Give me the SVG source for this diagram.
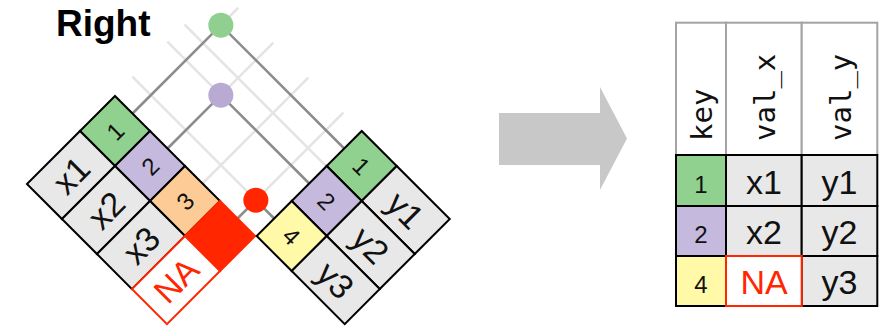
<svg xmlns="http://www.w3.org/2000/svg" width="887" height="326" viewBox="0 0 887 326">
<style>
.c{stroke:#000;stroke-width:2}
.gr{fill:#e8e8e8}
.k1{fill:#91d18f}
.k2{fill:#c5b9dd}
.k3{fill:#fdcc96}
.k4{fill:#fff9a8}
.na{fill:#fff;stroke:#ff2600;stroke-width:2}
.hd{fill:#fff;stroke:#a3a3a3;stroke-width:2}
.v{font-family:"Liberation Sans",Arial,sans-serif;font-size:34px;text-anchor:middle;fill:#111}
.n{font-family:"Liberation Sans",Arial,sans-serif;font-size:24px;text-anchor:middle;fill:#111}
.red{fill:#ff2600}
.h{font-family:"DejaVu Sans Mono",monospace;font-size:29px;fill:#111}
.light{stroke:#e4e4e4;stroke-width:2.5;fill:none}
.dark{stroke:#8c8c8c;stroke-width:2.5;fill:none}
</style>
<g id="title"><text x="56" y="36" font-family="Liberation Sans,Arial,sans-serif" font-weight="bold" font-size="37">Right</text></g>
<g id="connectors">
<line class="light" x1="132.5" y1="113.5" x2="238.35" y2="7.65"/>
<line class="light" x1="167.5" y1="148.5" x2="273.35" y2="42.65"/>
<line class="light" x1="202.5" y1="183.5" x2="308.35" y2="77.65"/>
<line class="light" x1="237.5" y1="218.5" x2="343.35" y2="112.65"/>
<line class="light" x1="184.5" y1="24.5" x2="326.4" y2="166.4"/>
<line class="light" x1="167.35" y1="41.65" x2="309.2" y2="183.5"/>
<line class="light" x1="132.35" y1="76.65" x2="274.2" y2="218.5"/>
<polyline class="dark" points="132.5,113.5 220.85,25.15 344.2,148.5"/>
<polyline class="dark" points="167.5,148.5 220.85,95.15 309.2,183.5"/>
<polyline class="dark" points="237.5,218.5 255.85,200.15 274.2,218.5"/>
</g>
<g id="table-x" transform="translate(115,96) rotate(-45)">
<rect class="c k1" x="-49.5" y="0" width="49.5" height="49.5"/>
<rect class="c k2" x="-49.5" y="49.5" width="49.5" height="49.5"/>
<rect class="c k3" x="-49.5" y="99" width="49.5" height="49.5"/>
<rect class="c gr" x="-124.5" y="0" width="75" height="49.5"/>
<rect class="c gr" x="-124.5" y="49.5" width="75" height="49.5"/>
<rect class="c gr" x="-124.5" y="99" width="75" height="49.5"/>
<rect x="-49.5" y="148.5" width="49.5" height="49.5" fill="#ff2600" stroke="#ff2600" stroke-width="2"/>
<rect class="na" x="-124.5" y="148.5" width="75" height="49.5"/>
<text class="n" x="-24.75" y="33.5">1</text>
<text class="n" x="-24.75" y="83">2</text>
<text class="n" x="-24.75" y="132.5">3</text>
<text class="v" x="-87" y="37">x1</text>
<text class="v" x="-87" y="86.5">x2</text>
<text class="v" x="-87" y="136">x3</text>
<text class="v red" x="-87" y="185.5">NA</text>
</g>
<g id="table-y" transform="translate(361.7,131) rotate(45)">
<rect class="c k1" x="0" y="0" width="49.5" height="49.5"/>
<rect class="c k2" x="0" y="49.5" width="49.5" height="49.5"/>
<rect class="c k4" x="0" y="99" width="49.5" height="49.5"/>
<rect class="c gr" x="49.5" y="0" width="75" height="49.5"/>
<rect class="c gr" x="49.5" y="49.5" width="75" height="49.5"/>
<rect class="c gr" x="49.5" y="99" width="75" height="49.5"/>
<text class="n" x="24.75" y="33.5">1</text>
<text class="n" x="24.75" y="83">2</text>
<text class="n" x="24.75" y="132.5">4</text>
<text class="v" x="87" y="37">y1</text>
<text class="v" x="87" y="86.5">y2</text>
<text class="v" x="87" y="136">y3</text>
</g>
<g id="dot-1"><circle cx="220.85" cy="25.15" r="12.5" fill="#8fcf8f"/></g>
<g id="dot-2"><circle cx="220.85" cy="95.15" r="12.5" fill="#b8aad2"/></g>
<g id="dot-na"><circle cx="255.85" cy="200.15" r="12.5" fill="#ff2600"/></g>
<g id="arrow"><polygon points="499,113 600,113 600,87 627,138.5 600,190 600,165 499,165" fill="#c8c8c8"/></g>
<g id="result">
<rect class="hd" x="676" y="22.7" width="50" height="132.3"/>
<rect class="hd" x="726" y="22.7" width="75.7" height="132.3"/>
<rect class="hd" x="801.7" y="22.7" width="75.6" height="132.3"/>
<text class="h" transform="translate(712,141) rotate(-90)">key</text>
<text class="h" transform="translate(775,141) rotate(-90)">val_x</text>
<text class="h" transform="translate(850.5,141) rotate(-90)">val_y</text>
<rect class="c k1" x="676" y="155" width="50" height="51"/>
<rect class="c k2" x="676" y="206" width="50" height="50"/>
<rect class="c k4" x="676" y="256" width="50" height="50"/>
<rect class="c gr" x="726" y="155" width="75.7" height="51"/>
<rect class="c gr" x="726" y="206" width="75.7" height="50"/>
<rect class="c gr" x="801.7" y="155" width="75.6" height="51"/>
<rect class="c gr" x="801.7" y="206" width="75.6" height="50"/>
<rect class="c gr" x="801.7" y="256" width="75.6" height="50"/>
<rect class="na" x="726" y="256" width="75.7" height="50"/>
<text class="n" x="701" y="193">1</text>
<text class="n" x="701" y="243">2</text>
<text class="n" x="701" y="293">4</text>
<text class="v" x="764" y="194">x1</text>
<text class="v" x="764" y="244">x2</text>
<text class="v red" x="764" y="294">NA</text>
<text class="v" x="839.5" y="194">y1</text>
<text class="v" x="839.5" y="244">y2</text>
<text class="v" x="839.5" y="294">y3</text>
</g>
</svg>
